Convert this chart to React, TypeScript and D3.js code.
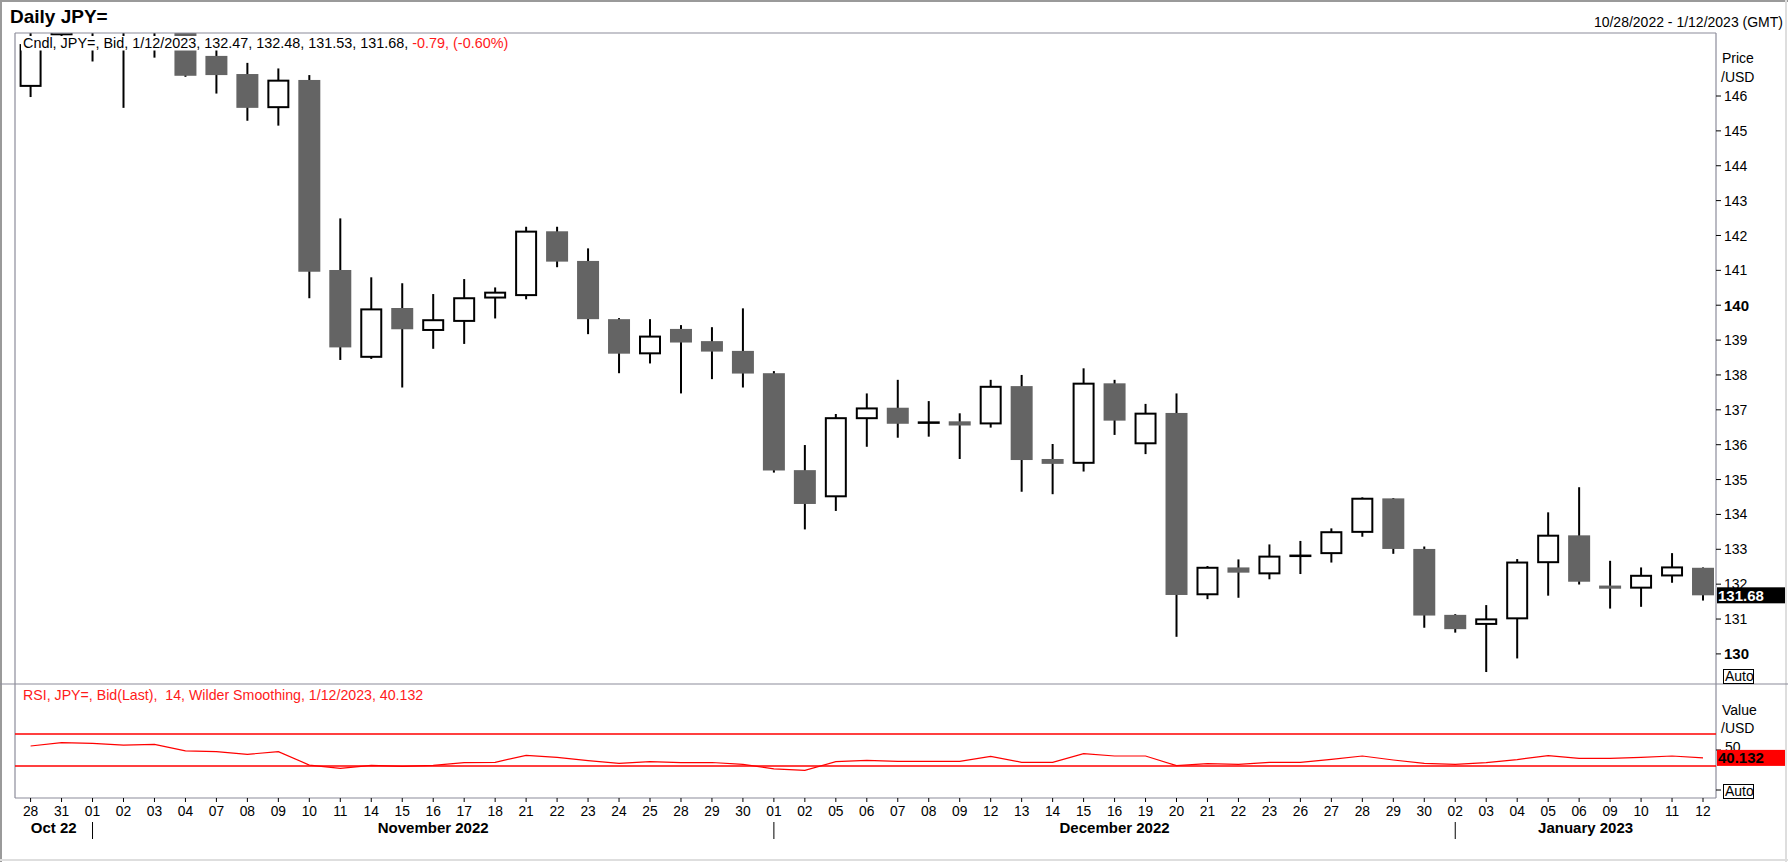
import { useEffect, useRef } from "react";
import * as d3 from "d3";

const WIDTH = 1788;
const HEIGHT = 862;
const PANEL = { left: 15, right: 1716, top: 33, split: 684, bottom: 798 };
const FONT = '"Liberation Sans", Arial, sans-serif';
const DOWN_FILL = "#646464";
const FRAME = "#8c8c9a";

const DATES = [
  "2022-10-28", "2022-10-31",
  "2022-11-01", "2022-11-02", "2022-11-03", "2022-11-04", "2022-11-07", "2022-11-08",
  "2022-11-09", "2022-11-10", "2022-11-11", "2022-11-14", "2022-11-15", "2022-11-16",
  "2022-11-17", "2022-11-18", "2022-11-21", "2022-11-22", "2022-11-23", "2022-11-24",
  "2022-11-25", "2022-11-28", "2022-11-29", "2022-11-30",
  "2022-12-01", "2022-12-02", "2022-12-05", "2022-12-06", "2022-12-07", "2022-12-08",
  "2022-12-09", "2022-12-12", "2022-12-13", "2022-12-14", "2022-12-15", "2022-12-16",
  "2022-12-19", "2022-12-20", "2022-12-21", "2022-12-22", "2022-12-23", "2022-12-26",
  "2022-12-27", "2022-12-28", "2022-12-29", "2022-12-30",
  "2023-01-02", "2023-01-03", "2023-01-04", "2023-01-05", "2023-01-06", "2023-01-09",
  "2023-01-10", "2023-01-11", "2023-01-12",
];

const OPEN = [
  146.29, 147.77, 148.7, 148.2, 147.95, 148.2, 147.15, 146.63, 145.68, 146.46, 141.01,
  138.52, 139.92, 139.29, 139.55, 140.22, 140.29, 142.12, 141.27, 139.6, 138.62, 139.32,
  138.97, 138.69, 138.05, 135.27, 134.52, 136.76, 137.06, 136.63, 136.67, 136.61, 137.68,
  135.59, 135.48, 137.76, 136.04, 136.91, 131.71, 132.48, 132.31, 132.81, 132.89, 133.5,
  134.46, 133.01, 131.12, 130.86, 131.02, 132.63, 133.4, 131.96, 131.9, 132.25, 132.47,
];
const HIGH = [
  147.9, 148.85, 148.8, 148.3, 148.4, 148.4, 147.45, 146.95, 146.79, 146.6, 142.49,
  140.8, 140.63, 140.32, 140.75, 140.51, 142.25, 142.25, 141.63, 139.63, 139.6, 139.43,
  139.37, 139.91, 138.11, 135.99, 136.88, 137.47, 137.86, 137.25, 136.9, 137.86, 138.0,
  136.02, 138.19, 137.86, 137.17, 137.47, 132.52, 132.71, 133.14, 133.24, 133.6, 134.49,
  134.47, 133.08, 131.14, 131.4, 132.72, 134.06, 134.78, 132.67, 132.48, 132.89, 132.48,
];
const LOW = [
  145.97, 147.72, 146.99, 145.66, 147.1, 146.55, 146.07, 145.29, 145.15, 140.2, 138.43,
  138.46, 137.64, 138.75, 138.89, 139.62, 140.17, 141.09, 139.17, 138.05, 138.33, 137.47,
  137.88, 137.64, 135.2, 133.57, 134.1, 135.94, 136.2, 136.23, 135.59, 136.49, 134.65,
  134.58, 135.23, 136.28, 135.73, 130.49, 131.57, 131.61, 132.14, 132.29, 132.62, 133.36,
  132.87, 130.75, 130.61, 129.48, 129.87, 131.67, 131.99, 131.3, 131.35, 132.04, 131.53,
];
const CLOSE = [
  147.46, 148.7, 148.2, 147.95, 148.2, 146.58, 146.6, 145.66, 146.44, 140.96, 138.79,
  139.88, 139.31, 139.57, 140.2, 140.36, 142.11, 141.25, 139.6, 138.61, 139.1, 138.93,
  138.67, 138.04, 135.26, 134.3, 136.76, 137.04, 136.6, 136.64, 136.55, 137.66, 135.56,
  135.45, 137.75, 136.69, 136.89, 131.69, 132.47, 132.33, 132.79, 132.82, 133.49, 134.45,
  133.01, 131.1, 130.71, 130.99, 132.62, 133.39, 132.07, 131.87, 132.24, 132.48, 131.68,
];

const RSI = [
  55.0, 59.2, 58.3, 56.2, 57.1, 48.8, 47.9, 44.6, 47.9, 31.2, 27.1, 30.8, 29.6, 30.8,
  34.2, 34.6, 43.3, 40.8, 36.7, 33.3, 35.4, 34.2, 34.4, 32.1, 26.5, 24.6, 35.4, 37.1,
  35.8, 35.8, 35.8, 42.1, 34.6, 34.6, 45.4, 42.5, 42.5, 30.4, 32.9, 32.1, 34.6, 34.6,
  38.3, 42.5, 37.5, 33.3, 32.1, 34.2, 38.0, 43.0, 39.6, 39.6, 40.8, 42.5, 40.132,
];
const RSI_LEVELS = [70, 30];

const PRICE_TICKS = d3.range(130, 147);
const BOLD_TICKS = [130, 140];
const MONTH_LABELS = ["Oct 22", "November 2022", "December 2022", "January 2023"];

const LAST_PRICE = "131.68";
const LAST_RSI = "40.132";

export default function App() {
  const svgRef = useRef<SVGSVGElement>(null);

  useEffect(() => {
    if (!svgRef.current) return;
    const svg = d3.select(svgRef.current);
    svg.selectAll("*").remove();

    const parse = d3.timeParse("%Y-%m-%d");
    const dates = DATES.map((d) => parse(d)!);

    const x = d3.scaleBand<string>().domain(DATES).range([15.1, 1718.5]);
    const cx = (i: number) => x(DATES[i])! + x.bandwidth() / 2;
    const y = d3.scaleLinear().domain([130, 146]).range([653.9, 96]);
    const yr = d3.scaleLinear().domain([0, 100]).range([790, 710]);
    const bodyW = x.bandwidth() * 0.71;

    svg.append("rect").attr("width", WIDTH).attr("height", HEIGHT).attr("fill", "white");

    // outer frame
    svg.append("line").attr("x1", 1).attr("x2", 1).attr("y1", 0).attr("y2", HEIGHT).attr("stroke", "#9a9a9a").attr("stroke-width", 2);
    svg.append("line").attr("x1", 0).attr("x2", WIDTH).attr("y1", 1).attr("y2", 1).attr("stroke", "#9a9a9a").attr("stroke-width", 2);
    svg.append("line").attr("x1", 1786).attr("x2", 1786).attr("y1", 0).attr("y2", HEIGHT).attr("stroke", "#dedede").attr("stroke-width", 2);
    svg.append("line").attr("x1", 0).attr("x2", WIDTH).attr("y1", 860).attr("y2", 860).attr("stroke", "#dedede").attr("stroke-width", 2);

    // titles
    svg.append("text")
      .attr("x", 10).attr("y", 23)
      .style("font", `bold 19px ${FONT}`)
      .text("Daily JPY=");
    svg.append("text")
      .attr("x", 1783).attr("y", 27)
      .attr("text-anchor", "end")
      .style("font", `14px ${FONT}`)
      .text("10/28/2022 - 1/12/2023 (GMT)");

    // clip for the price panel
    svg.append("clipPath").attr("id", "main-clip")
      .append("rect")
      .attr("x", PANEL.left).attr("y", PANEL.top)
      .attr("width", PANEL.right - PANEL.left).attr("height", PANEL.split - PANEL.top);

    const candles = svg.append("g").attr("clip-path", "url(#main-clip)");
    DATES.forEach((_, i) => {
      const o = OPEN[i], h = HIGH[i], l = LOW[i], c = CLOSE[i];
      const xc = cx(i);
      candles.append("line")
        .attr("x1", xc).attr("x2", xc)
        .attr("y1", y(h)).attr("y2", y(l))
        .attr("stroke", "black").attr("stroke-width", 2);
      if (c >= o) {
        candles.append("rect")
          .attr("x", xc - bodyW / 2 + 1).attr("width", bodyW - 2)
          .attr("y", y(c)).attr("height", Math.max(y(o) - y(c), 0.5))
          .attr("fill", "white").attr("stroke", "black").attr("stroke-width", 2);
      } else {
        candles.append("rect")
          .attr("x", xc - bodyW / 2).attr("width", bodyW)
          .attr("y", y(o)).attr("height", Math.max(y(c) - y(o), 2))
          .attr("fill", DOWN_FILL);
      }
    });

    // legend with white backing
    svg.append("rect").attr("x", 21).attr("y", 36).attr("width", 492).attr("height", 14.5).attr("fill", "white");
    const leg = svg.append("text").attr("x", 23).attr("y", 48).style("font", `14.4px ${FONT}`);
    leg.append("tspan").attr("fill", "black").text("Cndl, JPY=, Bid, 1/12/2023, 132.47, 132.48, 131.53, 131.68, ");
    leg.append("tspan").attr("fill", "#ff1a1a").text("-0.79, (-0.60%)");

    // panel frames
    const frame = svg.append("g").attr("stroke", FRAME).attr("stroke-width", 1.2).attr("fill", "none");
    frame.append("line").attr("x1", PANEL.left).attr("x2", PANEL.right).attr("y1", PANEL.top).attr("y2", PANEL.top);
    frame.append("line").attr("x1", PANEL.left).attr("x2", PANEL.left).attr("y1", PANEL.top).attr("y2", PANEL.bottom);
    frame.append("line").attr("x1", PANEL.right).attr("x2", PANEL.right).attr("y1", PANEL.top).attr("y2", PANEL.bottom);
    frame.append("line").attr("x1", 0).attr("x2", WIDTH).attr("y1", PANEL.split).attr("y2", PANEL.split);
    frame.append("line").attr("x1", PANEL.left).attr("x2", PANEL.right).attr("y1", PANEL.bottom).attr("y2", PANEL.bottom);

    // price axis
    const pax = svg.append("g");
    pax.append("text").attr("x", 1722).attr("y", 63).style("font", `14px ${FONT}`).text("Price");
    pax.append("text").attr("x", 1721).attr("y", 82).style("font", `14px ${FONT}`).text("/USD");
    PRICE_TICKS.forEach((t) => {
      const bold = BOLD_TICKS.includes(t);
      pax.append("line")
        .attr("x1", PANEL.right).attr("x2", PANEL.right + 5)
        .attr("y1", y(t)).attr("y2", y(t))
        .attr("stroke", "black");
      pax.append("text")
        .attr("x", 1724).attr("y", y(t)).attr("dy", "0.36em")
        .style("font", bold ? `bold 15px ${FONT}` : `14px ${FONT}`)
        .text(String(t));
    });
    const lastY = y(+LAST_PRICE);
    pax.append("rect").attr("x", 1717).attr("y", lastY - 8).attr("width", 68).attr("height", 16).attr("fill", "black");
    pax.append("text")
      .attr("x", 1718).attr("y", lastY).attr("dy", "0.36em")
      .attr("fill", "white")
      .style("font", `bold 15px ${FONT}`)
      .text(LAST_PRICE);

    const autoBox = (top: number) => {
      svg.append("rect").attr("x", 1723.5).attr("y", top + 0.5).attr("width", 30).attr("height", 14)
        .attr("fill", "white").attr("stroke", "black");
      svg.append("text").attr("x", 1725).attr("y", top + 12).style("font", `14px ${FONT}`).text("Auto");
    };
    autoBox(669);

    // RSI panel
    const rsi = svg.append("g");
    rsi.append("text")
      .attr("x", 23).attr("y", 700)
      .attr("fill", "#ff1a1a")
      .style("font", `14.2px ${FONT}`)
      .style("white-space", "pre")
      .text("RSI, JPY=, Bid(Last),  14, Wilder Smoothing, 1/12/2023, 40.132");
    RSI_LEVELS.forEach((lv) => {
      rsi.append("line")
        .attr("x1", PANEL.left).attr("x2", PANEL.right)
        .attr("y1", yr(lv)).attr("y2", yr(lv))
        .attr("stroke", "#ff0000").attr("stroke-width", 1.3);
    });
    rsi.append("path")
      .datum(RSI)
      .attr("fill", "none")
      .attr("stroke", "#ff0000")
      .attr("stroke-width", 1.2)
      .attr("d", d3.line<number>().x((_, i) => cx(i)).y((v) => yr(v)));

    rsi.append("text").attr("x", 1722).attr("y", 715).style("font", `14px ${FONT}`).text("Value");
    rsi.append("text").attr("x", 1721).attr("y", 733).style("font", `14px ${FONT}`).text("/USD");
    [50, 0].forEach((t) => {
      rsi.append("line")
        .attr("x1", PANEL.right).attr("x2", PANEL.right + 5)
        .attr("y1", yr(t)).attr("y2", yr(t))
        .attr("stroke", "black");
    });
    rsi.append("text").attr("x", 1725).attr("y", yr(50) - 3).attr("dy", "0.36em").style("font", `14px ${FONT}`).text("50");
    const rsiY = yr(+LAST_RSI);
    rsi.append("rect").attr("x", 1717).attr("y", rsiY - 8).attr("width", 68).attr("height", 16).attr("fill", "#ff0000");
    rsi.append("text")
      .attr("x", 1718).attr("y", rsiY).attr("dy", "0.36em")
      .style("font", `bold 15px ${FONT}`)
      .text(LAST_RSI);
    autoBox(784);

    // date axis
    const xax = svg.append("g");
    const dayFmt = d3.timeFormat("%d");
    dates.forEach((d, i) => {
      xax.append("line")
        .attr("x1", cx(i)).attr("x2", cx(i))
        .attr("y1", PANEL.bottom).attr("y2", PANEL.bottom + 4)
        .attr("stroke", "black");
      xax.append("text")
        .attr("x", cx(i)).attr("y", 816)
        .attr("text-anchor", "middle")
        .style("font", `13.8px ${FONT}`)
        .text(dayFmt(d));
    });
    const starts = dates
      .map((d, i) => ({ d, i }))
      .filter(({ d, i }) => i > 0 && d.getMonth() !== dates[i - 1].getMonth())
      .map(({ i }) => cx(i));
    starts.forEach((sx) => {
      xax.append("line")
        .attr("x1", sx).attr("x2", sx)
        .attr("y1", 822).attr("y2", 839)
        .attr("stroke", "black");
    });
    const bounds = [PANEL.left, ...starts, PANEL.right];
    MONTH_LABELS.forEach((lbl, k) => {
      xax.append("text")
        .attr("x", (bounds[k] + bounds[k + 1]) / 2).attr("y", 833)
        .attr("text-anchor", "middle")
        .style("font", `bold 15px ${FONT}`)
        .text(lbl);
    });
  }, []);

  return (
    <div style={{ position: "absolute", left: 0, top: 0 }}>
      <svg ref={svgRef} width={WIDTH} height={HEIGHT} style={{ display: "block" }} />
    </div>
  );
}
